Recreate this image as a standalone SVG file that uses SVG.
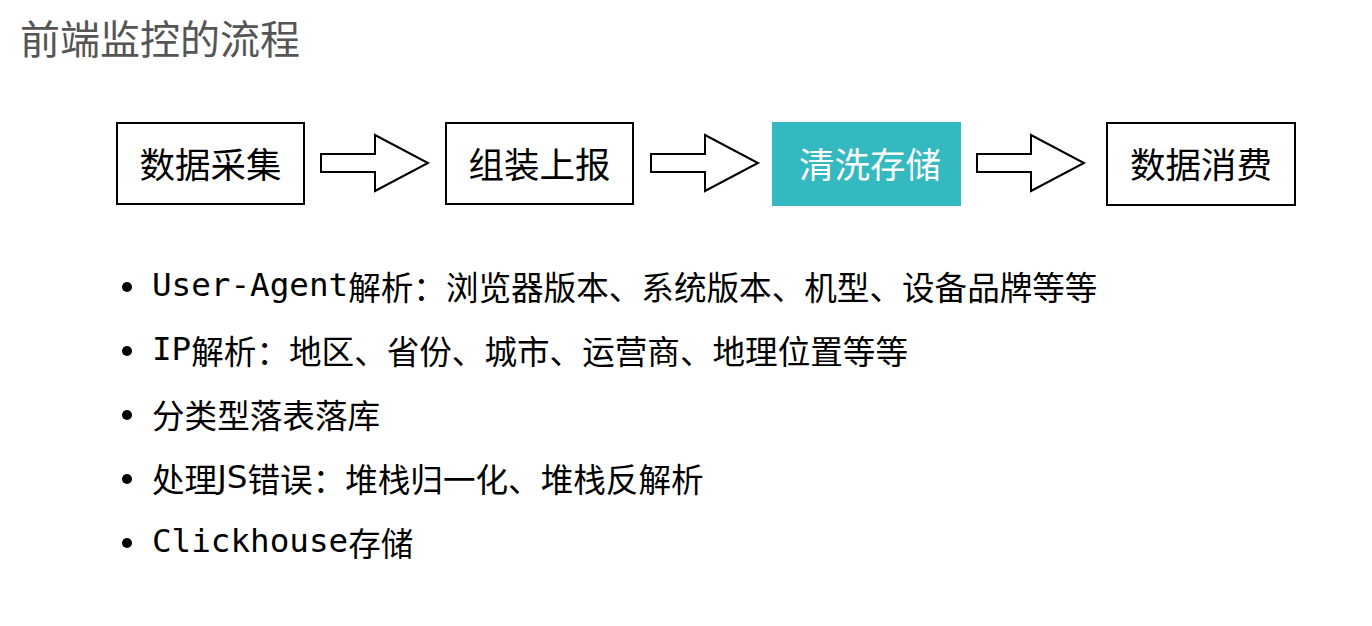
<svg xmlns="http://www.w3.org/2000/svg" width="1372" height="626" viewBox="0 0 1372 626">
<style>
.box{fill:#fff;stroke:#000;stroke-width:2}
.arrow{fill:#fff;stroke:#000;stroke-width:2;stroke-linejoin:miter}
.lbl{font-family:"Noto Sans CJK SC",sans-serif;font-size:35.5px;text-anchor:middle;dominant-baseline:central;fill:#000}
.item{font-family:"DejaVu Sans Mono","Noto Sans CJK SC",monospace;font-size:32.6px;dominant-baseline:central;fill:#000}
.cjk{font-family:"Noto Sans CJK SC",sans-serif}
.sans{font-family:"DejaVu Sans","Noto Sans CJK SC",sans-serif}
</style>
<rect width="1372" height="626" fill="#fff"/>
<text x="20" y="37" font-family="Noto Sans CJK SC, sans-serif" font-size="40" fill="#555" dominant-baseline="central">前端监控的流程</text>
<g id="n1"><rect class="box" x="117" y="123" width="187" height="81"/><text class="lbl" x="210.5" y="162">数据采集</text></g>
<g id="n2"><rect class="box" x="446" y="123" width="187" height="81"/><text class="lbl" x="539.5" y="162">组装上报</text></g>
<g id="n3"><rect x="772" y="122" width="189" height="84" fill="#35b9c1"/><text class="lbl" x="870" y="162" style="fill:#fff">清洗存储</text></g>
<g id="n4"><rect class="box" x="1107" y="123" width="188" height="82"/><text class="lbl" x="1201" y="162">数据消费</text></g>
<g id="connectors">
<polygon class="arrow" points="321,154 375,154 375,135 428,163 375,191 375,172 321,172"/>
<polygon class="arrow" points="651,154 705,154 705,135 758,163 705,191 705,172 651,172"/>
<polygon class="arrow" points="977,154 1031,154 1031,135 1084,163 1031,191 1031,172 977,172"/>
</g>
<g id="list">
<circle cx="127" cy="287" r="5"/>
<circle cx="127" cy="351" r="5"/>
<circle cx="127" cy="415" r="5"/>
<circle cx="127" cy="479" r="5"/>
<circle cx="127" cy="543" r="5"/>
<text class="item" x="152" y="285">User-Agent<tspan class="cjk">解析：浏览器版本、系统版本、机型、设备品牌等等</tspan></text>
<text class="item" x="152" y="349">IP<tspan class="cjk">解析：地区、省份、城市、运营商、地理位置等等</tspan></text>
<text class="item cjk" x="152" y="413">分类型落表落库</text>
<text class="item cjk" x="152" y="477">处理<tspan class="sans">JS</tspan>错误：堆栈归一化、堆栈反解析</text>
<text class="item" x="152" y="541">Clickhouse<tspan class="cjk">存储</tspan></text>
</g>
</svg>
